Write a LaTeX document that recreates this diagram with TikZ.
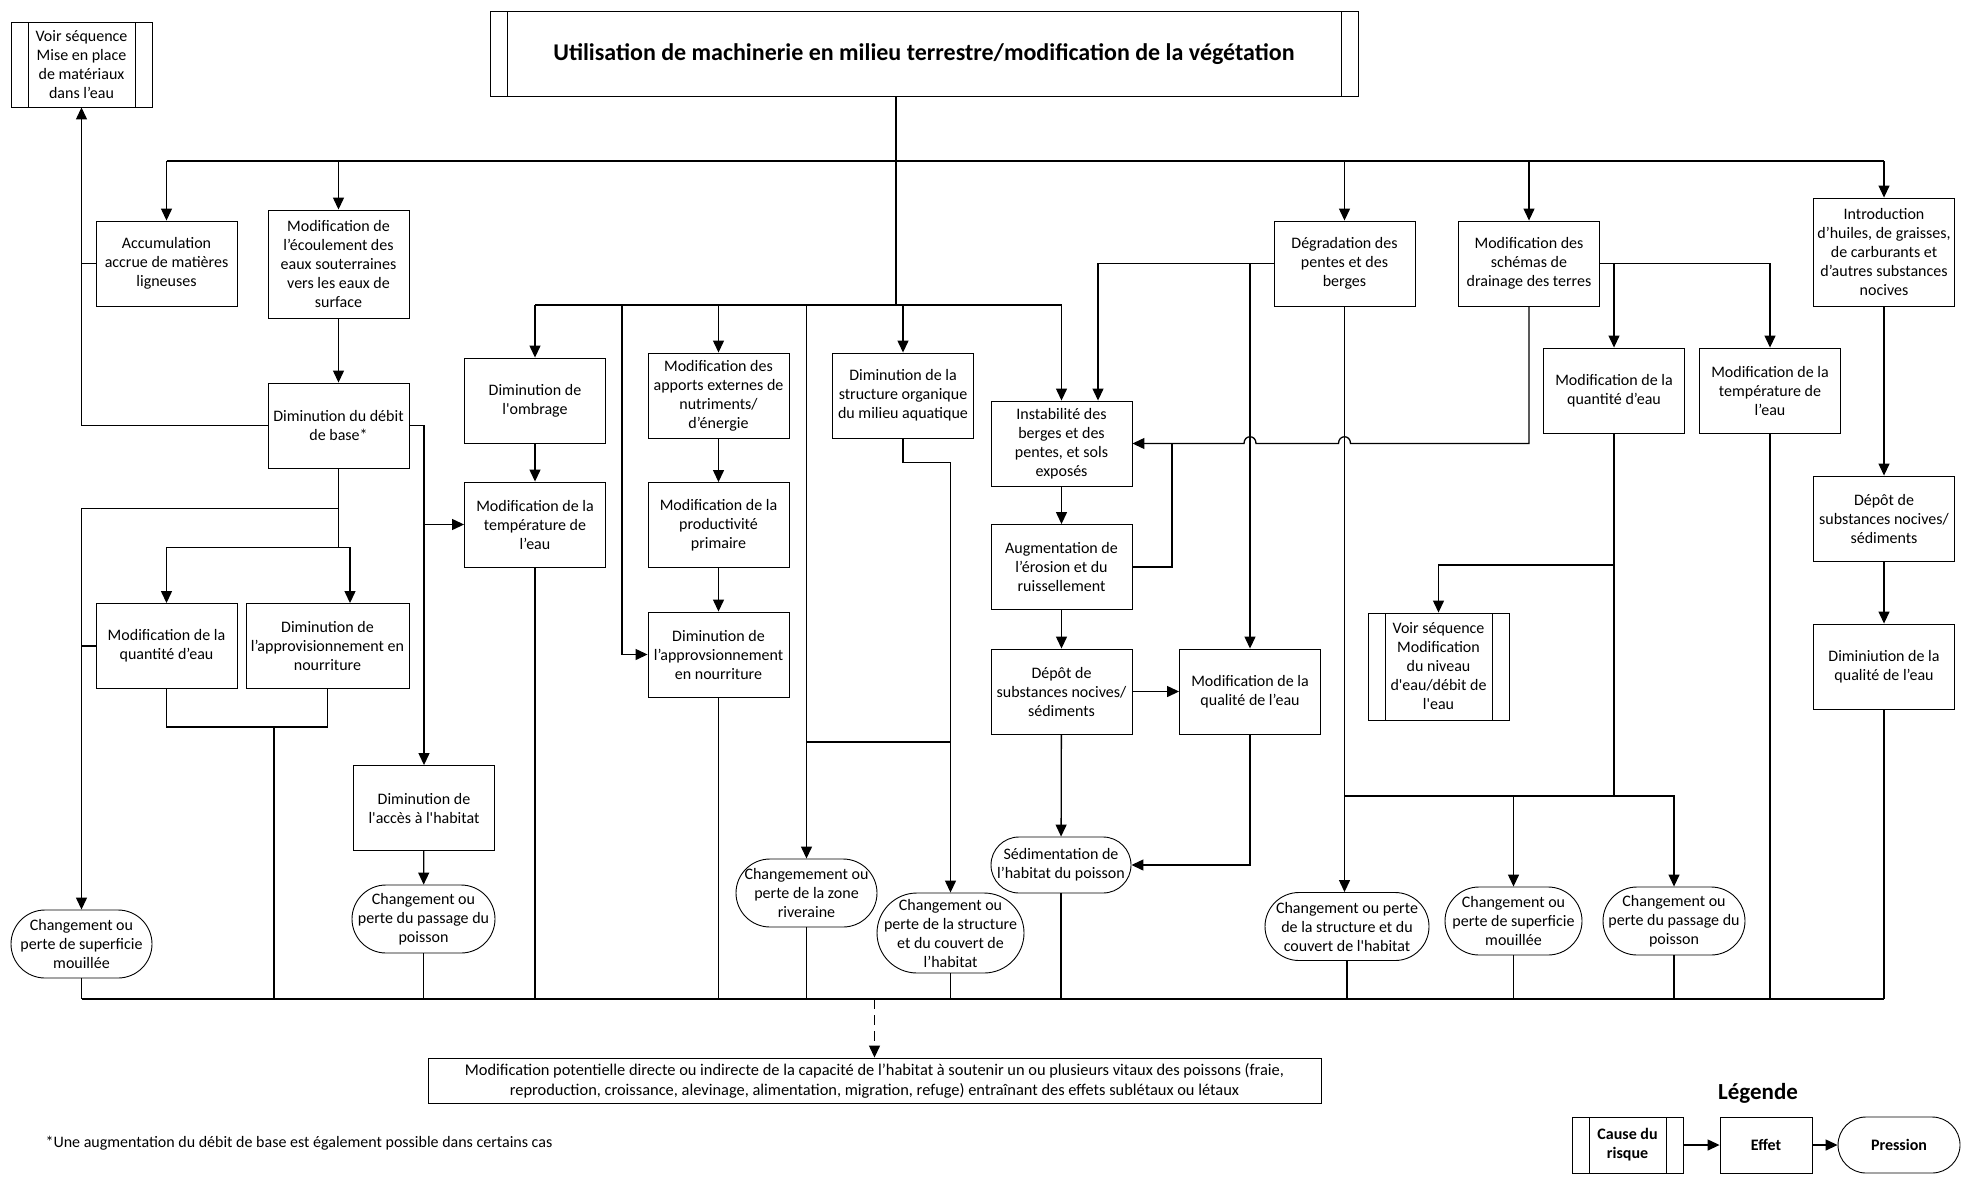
\documentclass[tikz,border=0pt]{standalone}
\usepackage{fontspec}
\setmainfont{Carlito}
\usepackage{tikz}
\usetikzlibrary{arrows.meta}
\newcommand\boxfont{\fontsize{16}{19}\selectfont}
\tikzset{
  lien/.style={line width=1.3pt},
  arr/.style={lien, -{Triangle[length=12pt,width=11pt]}},
  effet/.style={draw, line width=0.9pt, minimum width=141pt, minimum height=85pt,
    align=center, inner sep=1pt, font=\boxfont},
  cause/.style={effet, path picture={
    \draw[line width=0.9pt] ([xshift=17pt]path picture bounding box.north west) -- ([xshift=17pt]path picture bounding box.south west);
    \draw[line width=0.9pt] ([xshift=-17pt]path picture bounding box.north east) -- ([xshift=-17pt]path picture bounding box.south east);}},
  pression/.style={effet, rounded corners=#1, minimum height=2*#1},
  pression/.default=34pt
}

\begin{document}
\begin{tikzpicture}[x=1pt, y=-1pt]

\useasboundingbox (0,0) rectangle (1972,1183);

% causes
\node[cause] (voirmise) at (81.5,64.5) {Voir séquence\\Mise en place\\de matériaux\\dans l’eau};
\node[cause, minimum width=868pt, font=\bfseries\fontsize{24}{28}\selectfont] (title) at (924,54) {Utilisation de machinerie en milieu terrestre/modification de la végétation};
\node[cause, minimum height=107pt] (voirniveau) at (1438.5,666.5) {Voir séquence\\Modification\\du niveau\\d\textquotesingle eau/débit de\\l\textquotesingle eau};

% left column
\node[effet] (accum) at (166.5,263.5) {Accumulation\\accrue de matières\\ligneuses};
\node[effet, minimum height=108pt] (ecoul) at (338.5,264) {Modification de\\l’écoulement des\\eaux souterraines\\vers les eaux de\\surface};
\node[effet] (debit) at (338.5,425.5) {Diminution du débit\\de base*};
\node[effet] (quantG) at (166.5,646) {Modification de la\\quantité d’eau};
\node[effet, minimum width=163pt] (approG) at (327.5,646) {Diminution de\\l’approvisionnement en\\nourriture};
\node[effet] (acces) at (424,808) {Diminution de\\l\textquotesingle accès à l\textquotesingle habitat};
\node[pression] (supG) at (81.5,944) {Changement ou\\perte de superficie\\mouillée};
\node[pression, minimum width=143pt] (passG) at (423.5,919) {Changement ou\\perte du passage du\\poisson};

% middle columns
\node[effet] (ombrage) at (535,400.5) {Diminution de\\l\textquotesingle ombrage};
\node[effet] (tempG) at (535,524.5) {Modification de la\\température de\\l’eau};
\node[effet] (apports) at (718.5,395.5) {Modification des\\apports externes de\\nutriments/\\d’énergie};
\node[effet] (produc) at (718.5,525) {Modification de la\\productivité\\primaire};
\node[effet] (approM) at (718.5,654.5) {Diminution de\\l’approvsionnement\\en nourriture};
\node[effet] (struct) at (903,395.5) {Diminution de la\\structure organique\\du milieu aquatique};
\node[pression] (riv) at (806.5,893) {Changemement ou\\perte de la zone\\riveraine};
\node[pression=40pt, minimum width=147pt] (structC) at (950.5,933) {Changement ou\\perte de la structure\\et du couvert de\\l’habitat};

\node[effet] (instab) at (1061.5,443.5) {Instabilité des\\berges et des\\pentes, et sols\\exposés};
\node[effet] (augm) at (1061.5,567) {Augmentation de\\l’érosion et du\\ruissellement};
\node[effet] (depotM) at (1061.5,691.5) {Dépôt de\\substances nocives/\\sédiments};
\node[effet] (qualM) at (1250,691.5) {Modification de la\\qualité de l’eau};
\node[pression=28pt, minimum width=140pt] (sedim) at (1061,865) {Sédimentation de\\l’habitat du poisson};

% right columns
\node[effet] (degrad) at (1344.5,263.5) {Dégradation des\\pentes et des\\berges};
\node[effet] (schemas) at (1529,263.5) {Modification des\\schémas de\\drainage des terres};
\node[effet] (quantR) at (1614,390.5) {Modification de la\\quantité d’eau};
\node[effet] (tempR) at (1770,390.5) {Modification de la\\température de\\l’eau};
\node[pression, minimum width=164pt] (structR) at (1347,926.5) {Changement ou perte\\de la structure et du\\couvert de l\textquotesingle habitat};
\node[pression, minimum width=137pt] (supR) at (1513.5,921) {Changement ou\\perte de superficie\\mouillée};
\node[pression, minimum width=142pt] (passR) at (1674,921) {Changement ou\\perte du passage du\\poisson};
\node[effet, minimum height=108pt] (introd) at (1884,252) {Introduction\\d’huiles, de graisses,\\de carburants et\\d’autres substances\\nocives};
\node[effet] (depotR) at (1884,518.5) {Dépôt de\\substances nocives/\\sédiments};
\node[effet] (qualR) at (1884,666.5) {Diminiution de la\\qualité de l’eau};

% bottom
\node[effet, minimum width=893pt, minimum height=45pt, font=\fontsize{16.4}{20}\selectfont] (bas) at (874.5,1080.5) {Modification potentielle directe ou indirecte de la capacité de l’habitat à soutenir un ou plusieurs vitaux des poissons (fraie,\\reproduction, croissance, alevinage, alimentation, migration, refuge) entraînant des effets sublétaux ou létaux};
\node[anchor=west, font=\boxfont] (note) at (42,1143) {*Une augmentation du débit de base est également possible dans certains cas};

% legend
\node[font=\bfseries\fontsize{23}{28}\selectfont] (legende) at (1758,1093) {Légende};
\node[cause, minimum width=111pt, minimum height=56pt, font=\bfseries\boxfont] (lcause) at (1627.5,1145) {Cause du\\risque};
\node[effet, minimum width=92pt, minimum height=56pt, font=\bfseries\boxfont] (leffet) at (1766,1145) {Effet};
\node[pression=28pt, minimum width=122pt, font=\bfseries\boxfont] (lpression) at (1899,1145) {Pression};

% junctions
\coordinate (bus1) at (896,161);
\coordinate (bus2) at (896,305);
\coordinate (bus3) at (874.5,999);
\coordinate (jappro) at (622,305);
\coordinate (jqa) at (274,727);
\coordinate (jaug) at (1172,443.5);
\coordinate (h565) at (0,565);
\coordinate (h742) at (0,742);
\coordinate (h796) at (0,796);

% top bus
\draw[lien] (title.south -| bus1) -- (bus2);
\draw[lien] (accum.north |- bus1) -- (introd.north |- bus1);
\draw[arr] (accum.north |- bus1) -- (accum.north);
\draw[arr] (ecoul.north |- bus1) -- (ecoul.north);
\draw[arr] (degrad.north |- bus1) -- (degrad.north);
\draw[arr] (schemas.north |- bus1) -- (schemas.north);
\draw[arr] (introd.north |- bus1) -- (introd.north);

% left column
\draw[arr] (ecoul) -- (debit);
\draw[arr] (debit.west) -| (voirmise.south);
\draw[lien] (accum.west) -- (accum.west -| voirmise.south);
\draw[arr] (debit.east) -| (acces.north);
\draw[arr] (acces.north |- tempG.west) -- (tempG.west);
\draw[lien] (debit.south) -- ++(0,79) coordinate (jdeb);
\draw[arr] ([yshift=-40pt]debit.south) -| (supG.north);
\draw[arr] (jdeb) -| (quantG.north);
\draw[arr] (jdeb) -| ([xshift=22.5pt]approG.north);
\draw[lien] (quantG.west) -- (quantG.west -| supG.north);
\draw[lien] (quantG.south) -- ++(0,38) -| (approG.south);
\draw[lien] (jqa) -- (jqa |- bus3);
\draw[arr] (acces) -- (passG);

% second bus
\draw[lien] (ombrage.north |- bus2) -- (instab.north |- bus2);
\draw[arr] (ombrage.north |- bus2) -- (ombrage.north);
\draw[arr] (apports.north |- bus2) -- (apports.north);
\draw[arr] (struct.north |- bus2) -- (struct.north);
\draw[arr] (instab.north |- bus2) -- (instab.north);
\draw[arr] (ombrage) -- (tempG);
\draw[arr] (jappro) |- (approM.west);
\draw[arr] (apports) -- (produc);
\draw[arr] (produc) -- (approM);
\draw[arr] (riv.north |- bus2) -- (riv.north);
\draw[arr] (struct.south) -- ++(0,24) -| (structC.north);
\draw[lien] (riv.north |- h742) -- (structC.north |- h742);

% banks and slopes
\draw[arr] (degrad.west) -| ([xshift=36.5pt]instab.north);
\draw[arr] (degrad.west -| qualM.north) -- (qualM.north);
\draw[arr] (degrad.south) -- (degrad.south |- structR.north);
\draw[arr] (instab) -- (augm);
\draw[arr] (augm) -- (depotM);
\draw[arr] (depotM) -- (qualM);
\draw[arr] (depotM) -- (sedim);
\draw[arr] (qualM.south) |- (sedim.east);
\draw[lien] (augm.east) -| (jaug);
\draw[arr] (schemas.south) -- (schemas.south |- instab.east)
  -- ([xshift=6pt]degrad.south |- instab.east) .. controls +(0,-9) and +(0,-9) .. ([xshift=-6pt]degrad.south |- instab.east)
  -- ([xshift=6pt]qualM.north |- instab.east) .. controls +(0,-9) and +(0,-9) .. ([xshift=-6pt]qualM.north |- instab.east)
  -- (instab.east);

% drainage
\draw[arr] (schemas.east) -| (tempR.north);
\draw[arr] (schemas.east -| quantR.north) -- (quantR.north);
\draw[lien] (quantR.south) -- (quantR.south |- h796);
\draw[arr] (quantR.south |- h565) -| (voirniveau.north);
\draw[arr] (degrad.south |- h796) -| (passR.north);
\draw[arr] (supR.north |- h796) -- (supR.north);

% oils
\draw[arr] (introd) -- (depotR);
\draw[arr] (depotR) -- (qualR);

% bottom bus
\draw[lien] (supG.south |- bus3) -- (qualR.south |- bus3);
\draw[lien] (supG.south) -- (supG.south |- bus3);
\draw[lien] (passG.south) -- (passG.south |- bus3);
\draw[lien] (tempG.south) -- (tempG.south |- bus3);
\draw[lien] (approM.south) -- (approM.south |- bus3);
\draw[lien] (riv.south) -- (riv.south |- bus3);
\draw[lien] (structC.south) -- (structC.south |- bus3);
\draw[lien] (sedim.south) -- (sedim.south |- bus3);
\draw[lien] (structR.south) -- (structR.south |- bus3);
\draw[lien] (supR.south) -- (supR.south |- bus3);
\draw[lien] (passR.south) -- (passR.south |- bus3);
\draw[lien] (tempR.south) -- (tempR.south |- bus3);
\draw[lien] (qualR.south) -- (qualR.south |- bus3);
\draw[arr, dash pattern=on 10pt off 6pt] (bus3) -- (bas.north);

% legend
\draw[arr] (lcause) -- (leffet);
\draw[arr] (leffet) -- (lpression);

\end{tikzpicture}
\end{document}
